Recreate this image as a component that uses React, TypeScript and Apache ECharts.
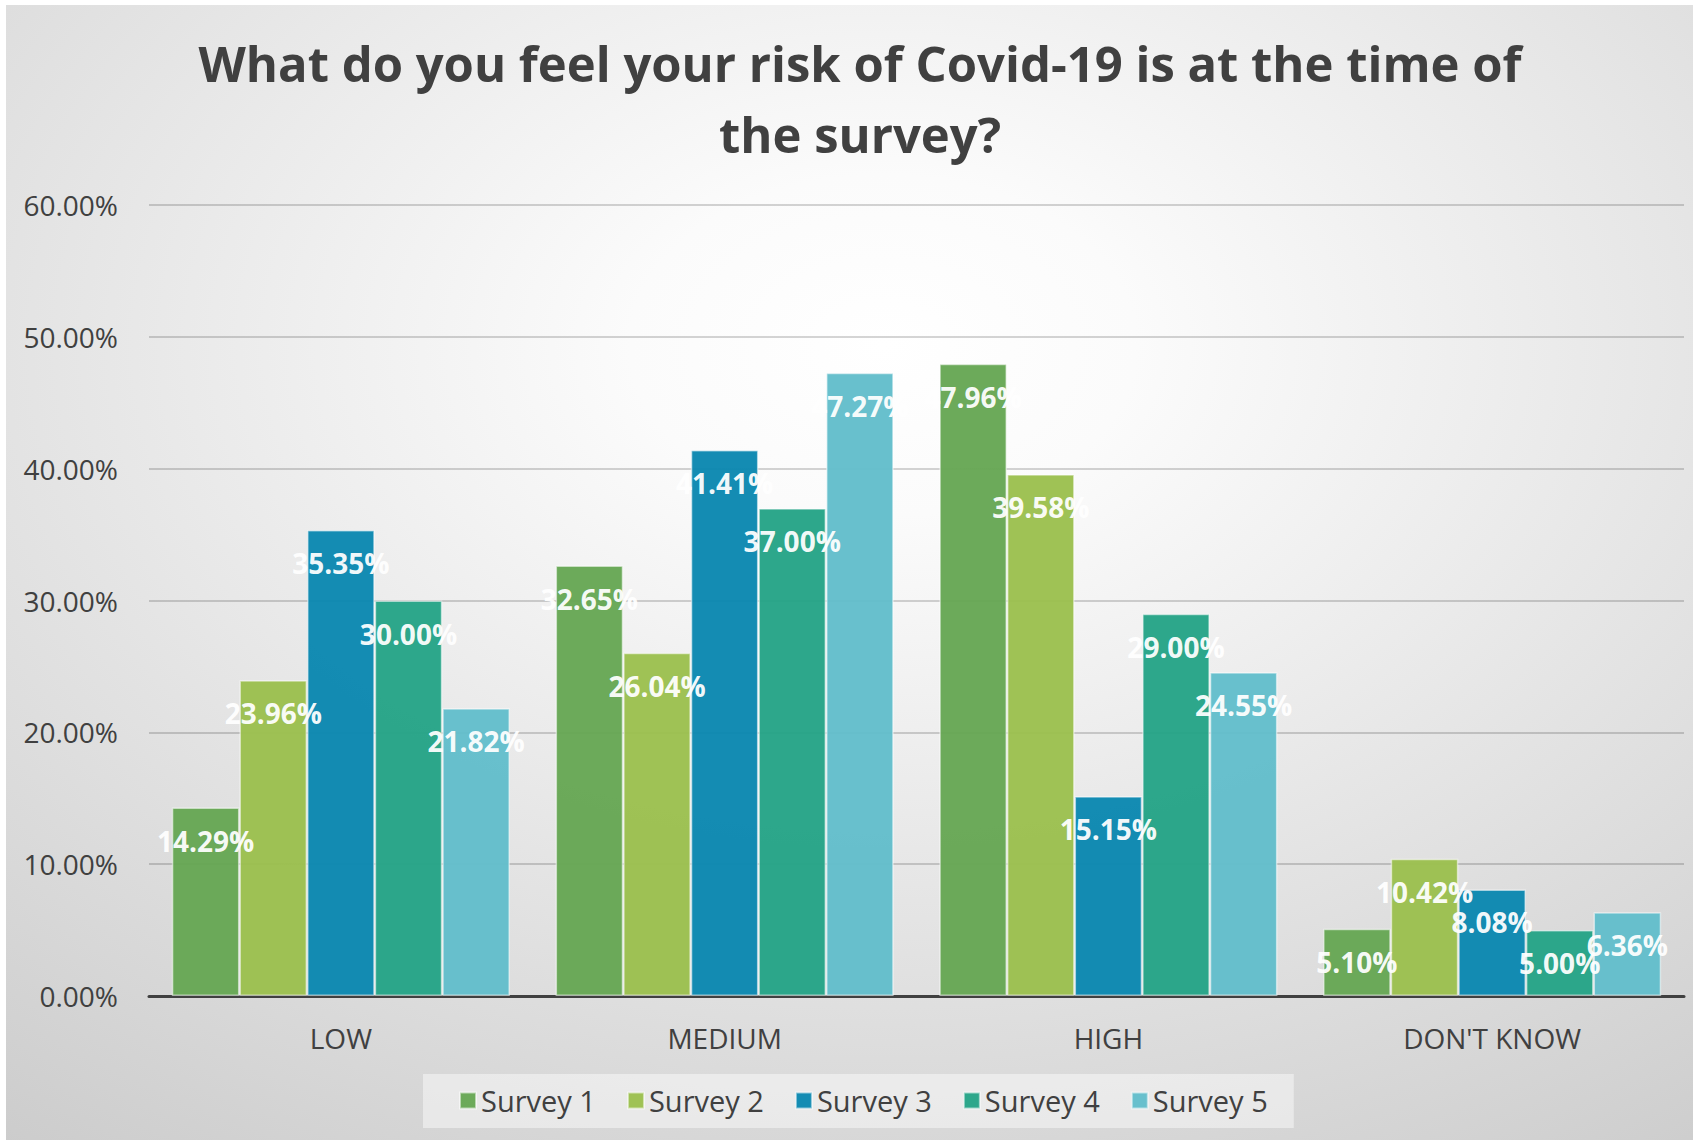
import React, { useEffect, useRef } from "react";
import * as echarts from "echarts";

const titleText = "What do you feel your risk of Covid-19 is at the time of\nthe survey?";
const categories = ["LOW", "MEDIUM", "HIGH", "DON'T KNOW"];
const seriesNames = ["Survey 1", "Survey 2", "Survey 3", "Survey 4", "Survey 5"];
const survey1 = [14.29, 32.65, 47.96, 5.1];
const survey2 = [23.96, 26.04, 39.58, 10.42];
const survey3 = [35.35, 41.41, 15.15, 8.08];
const survey4 = [30.0, 37.0, 29.0, 5.0];
const survey5 = [21.82, 47.27, 24.55, 6.36];
const seriesValues = [survey1, survey2, survey3, survey4, survey5];
const colors = ["#66a753", "#9bbf4e", "#0a87b0", "#24a386", "#62bdcb"];
const yMin = 0;
const yMax = 60;
const yInterval = 10;

const FONT = "'Open Sans', 'Noto Sans', sans-serif";

export default function App() {
  const ref = useRef<HTMLDivElement>(null);
  useEffect(() => {
    if (!ref.current) return;
    const chart = echarts.init(ref.current, null, { renderer: "svg" });
    const bg = new echarts.graphic.RadialGradient(0.52, 0.3, 1.0, [
      { offset: 0, color: "#ffffff" },
      { offset: 0.15, color: "#fbfbfb" },
      { offset: 1, color: "#c4c4c4" },
    ]);
    chart.setOption({
      animation: false,
      backgroundColor: "#ffffff",
      textStyle: { fontFamily: FONT },
      graphic: {
        elements: [
          {
            type: "rect",
            z: -10,
            silent: true,
            shape: { x: 6, y: 5, width: 1687, height: 1135 },
            style: { fill: bg },
          },
        ],
      },
      title: {
        text: titleText,
        left: 860,
        top: 27,
        padding: 0,
        textAlign: "center",
        textStyle: {
          fontFamily: FONT,
          fontSize: 49,
          fontWeight: "bold",
          lineHeight: 71,
          color: "#404040",
        },
      },
      legend: {
        data: seriesNames,
        left: 423,
        top: 1074,
        orient: "horizontal",
        padding: [12, 26, 13, 36],
        backgroundColor: "rgba(255,255,255,0.45)",
        itemWidth: 16,
        itemHeight: 16,
        itemGap: 31,
        icon: "rect",
        textStyle: { fontFamily: FONT, fontSize: 29, color: "#404040" },
      },
      grid: { left: 149, right: 9, top: 205, bottom: 144, containLabel: false },
      xAxis: {
        type: "category",
        data: categories,
        axisLine: { show: true, lineStyle: { color: "#404040", width: 3 } },
        axisTick: { show: false },
        axisLabel: { fontFamily: FONT, fontSize: 28, color: "#404040", margin: 28 },
      },
      yAxis: {
        type: "value",
        min: yMin,
        max: yMax,
        interval: yInterval,
        axisLine: { show: false },
        axisTick: { show: false },
        splitLine: { lineStyle: { color: "rgba(0,0,0,0.22)", width: 1.5 } },
        axisLabel: {
          fontFamily: FONT,
          fontSize: 28,
          color: "#404040",
          margin: 31,
          formatter: (v: number) => v.toFixed(2) + "%",
        },
      },
      series: seriesNames.map((name, i) => ({
        name,
        type: "bar",
        data: seriesValues[i],
        barGap: "0%",
        barCategoryGap: "11.9%",
        itemStyle: {
          color: colors[i],
          opacity: 0.96,
          borderColor: "rgba(255,255,255,0.55)",
          borderWidth: 1.5,
        },
        label: {
          show: true,
          position: "insideTop",
          distance: 19,
          fontFamily: FONT,
          fontSize: 28,
          fontWeight: "bold",
          color: "#ffffff",
          formatter: (p: any) => Number(p.value).toFixed(2) + "%",
        },
      })),
    });
    return () => chart.dispose();
  }, []);
  return (
    <div
      ref={ref}
      style={{ position: "fixed", left: 0, top: 0, width: 1693, height: 1140 }}
    />
  );
}
